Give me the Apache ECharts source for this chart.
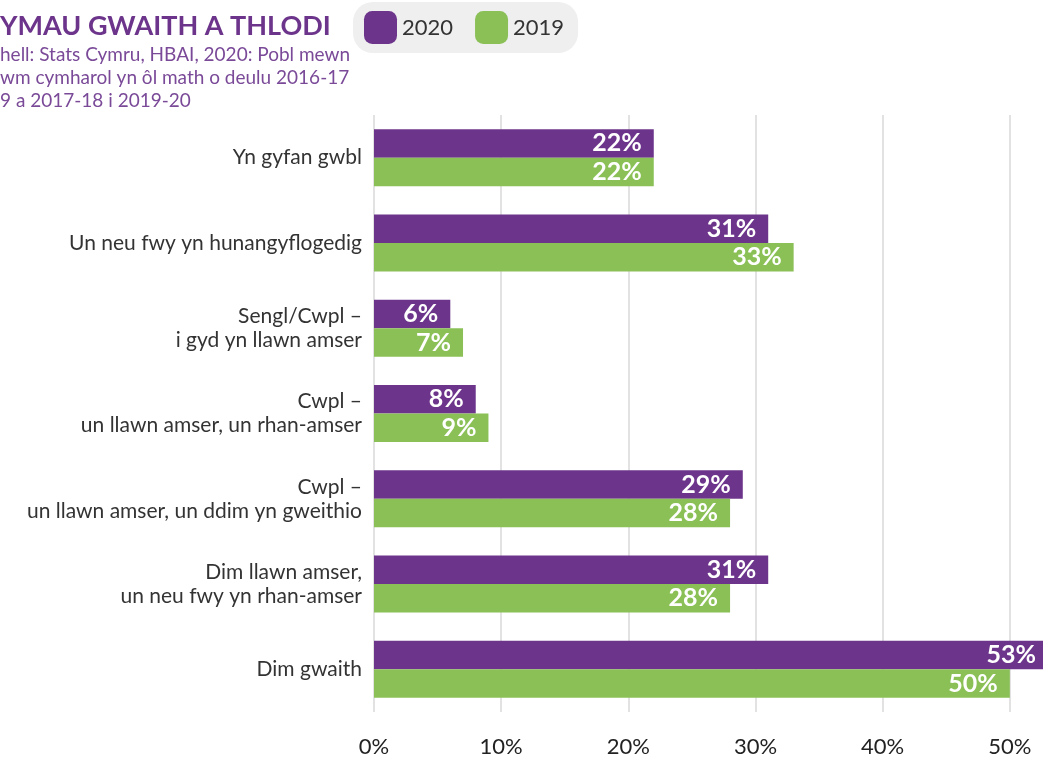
<!DOCTYPE html>
<html>
<head>
<meta charset="utf-8">
<script src="https://cdn.jsdelivr.net/npm/echarts@6/dist/echarts.min.js"></script>
<style>
body { margin: 0; padding: 0; background: #fff; }
#chart { width: 1043px; height: 759px; }
</style>
</head>
<body>
<div id="chart"></div>
<script>
// categories, top to bottom
const categories = [
  'Yn gyfan gwbl',
  'Un neu fwy yn hunangyflogedig',
  'Sengl/Cwpl –\ni gyd yn llawn amser',
  'Cwpl –\nun llawn amser, un rhan-amser',
  'Cwpl –\nun llawn amser, un ddim yn gweithio',
  'Dim llawn amser,\nun neu fwy yn rhan-amser',
  'Dim gwaith'
]
const values2020 = [22, 31, 6, 8, 29, 31, 53]
const values2019 = [22, 33, 7, 9, 28, 28, 50]
const xTicks = [0, 10, 20, 30, 40, 50]

const purple = '#6c358b'
const green = '#8bc057'
const font = 'Lato'

const chart = echarts.init(document.getElementById('chart'))

const barLabel = {
  show: true,
  position: 'insideRight',
  formatter: '{c}%',
  color: '#fff',
  fontFamily: font,
  fontWeight: 'bold',
  fontSize: 25,
  distance: 12
}

chart.setOption({
  backgroundColor: '#fff',
  animation: false,
  title: {
    text: 'YMAU GWAITH A THLODI',
    subtext: 'hell: Stats Cymru, HBAI, 2020: Pobl mewn\nwm cymharol yn ôl math o deulu 2016-17\n9 a 2017-18 i 2019-20',
    left: 0,
    top: 13,
    padding: 0,
    itemGap: 3,
    textStyle: { color: purple, fontFamily: font, fontWeight: 'bold', fontSize: 27 },
    subtextStyle: { color: '#7a4a98', fontFamily: font, fontSize: 19, lineHeight: 23 }
  },
  legend: {
    left: 353,
    top: 2,
    padding: [9, 14, 9, 11],
    backgroundColor: '#efefef',
    borderRadius: 20,
    itemWidth: 33,
    itemHeight: 33,
    itemGap: 22,
    icon: 'roundRect',
    textStyle: { color: '#333', fontFamily: font, fontSize: 22 },
    data: ['2020', '2019']
  },
  grid: {
    left: 374,
    right: -94,
    top: 115,
    bottom: 47,
    outerBoundsMode: 'none',
    containLabel: false
  },
  xAxis: {
    type: 'value',
    min: 0,
    max: 60,
    interval: 10,
    axisLine: { show: false },
    axisTick: { show: false },
    splitLine: { lineStyle: { color: '#e2e2e2', width: 2 } },
    axisLabel: {
      formatter: v => xTicks.includes(v) ? v + '%' : '',
      color: '#222',
      fontFamily: font,
      fontSize: 22,
      margin: 24
    }
  },
  yAxis: {
    type: 'category',
    inverse: true,
    data: categories,
    axisLine: { show: false },
    axisTick: { show: false },
    axisLabel: {
      color: '#333',
      fontFamily: font,
      fontSize: 21,
      lineHeight: 24,
      align: 'right',
      margin: 12
    }
  },
  series: [
    {
      name: '2020',
      type: 'bar',
      data: values2020,
      barWidth: 28.5,
      barGap: '0%',
      itemStyle: { color: purple },
      label: barLabel
    },
    {
      name: '2019',
      type: 'bar',
      data: values2019,
      barWidth: 28.5,
      itemStyle: { color: green },
      label: barLabel
    }
  ]
})
</script>
</body>
</html>
